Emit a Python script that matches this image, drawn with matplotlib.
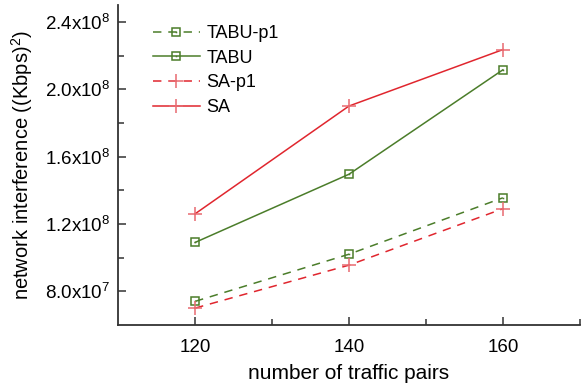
import matplotlib.pyplot as plt
import numpy as np
from matplotlib.legend_handler import HandlerTuple

plt.rcParams['font.family'] = ['Liberation Sans', 'DejaVu Sans']
plt.rcParams['mathtext.default'] = 'regular'

# data
pairs = [120, 140, 160]
tabu_p1 = [7.4e7, 1.02e8, 1.355e8]
tabu = [1.09e8, 1.495e8, 2.115e8]
sa_p1 = [7.0e7, 9.55e7, 1.29e8]
sa = [1.26e8, 1.90e8, 2.235e8]

green = '#4b7d2a'
red = '#e0262e'
dash = (0, (5.5, 4.5))

fig = plt.figure(figsize=(5.88, 3.85), dpi=100)
ax = fig.add_axes([0.201, 0.156, 0.785, 0.831])

handles = []
for y, c, ls, m in [(tabu_p1, green, dash, 's'),
                    (tabu, green, '-', 's'),
                    (sa_p1, red, dash, '+'),
                    (sa, red, '-', '+')]:
    if m == 's':
        l, = ax.plot(pairs, y, color=c, ls=ls, lw=1.1, marker='s', ms=5.5,
                     mfc='none', mec=c, mew=1.1)
        d, = ax.plot(pairs, y, ls='none', marker='s', ms=1.1, color=c, mew=0)
        handles.append((l, d))
    else:
        l, = ax.plot(pairs, y, color=c, ls=ls, lw=1.1, marker='+', ms=9.5,
                     mew=1.1, mec='#e86a70')
        handles.append(l)

ax.legend(handles, ['TABU-p1', 'TABU', 'SA-p1', 'SA'],
          handler_map={tuple: HandlerTuple(ndivide=1)},
          loc='upper left', bbox_to_anchor=(0.04, 0.988), frameon=False,
          fontsize=13, handlelength=2.6, handletextpad=0.35, labelspacing=0.42)

ax.set_xlim(110, 170)
ax.set_ylim(6.0e7, 2.5e8)
ax.set_xticks([120, 140, 160])
ax.set_xticks([130, 150, 170], minor=True)
yt = [8.0e7, 1.2e8, 1.6e8, 2.0e8, 2.4e8]
ax.set_yticks(yt)
ax.set_yticklabels([r'8.0x10$^{7}$', r'1.2x10$^{8}$', r'1.6x10$^{8}$',
                    r'2.0x10$^{8}$', r'2.4x10$^{8}$'])
ax.set_yticks([1.0e8, 1.4e8, 1.8e8, 2.2e8], minor=True)

for s in ['top', 'right']:
    ax.spines[s].set_visible(False)
for s in ['left', 'bottom']:
    ax.spines[s].set_linewidth(1.3)
    ax.spines[s].set_color('#333333')

ax.tick_params(which='both', direction='in', width=1.1, color='#333333',
               labelsize=13.5)
ax.tick_params(which='major', length=6)
ax.tick_params(which='minor', length=4)
ax.tick_params(axis='y', pad=6)
ax.tick_params(axis='x', pad=10)

ax.set_xlabel('number of traffic pairs', fontsize=15, labelpad=6)
ax.set_ylabel(r'network interference ((Kbps)$^{2}$)', fontsize=14.5, labelpad=7)

fig.savefig('out.png', dpi=100)
